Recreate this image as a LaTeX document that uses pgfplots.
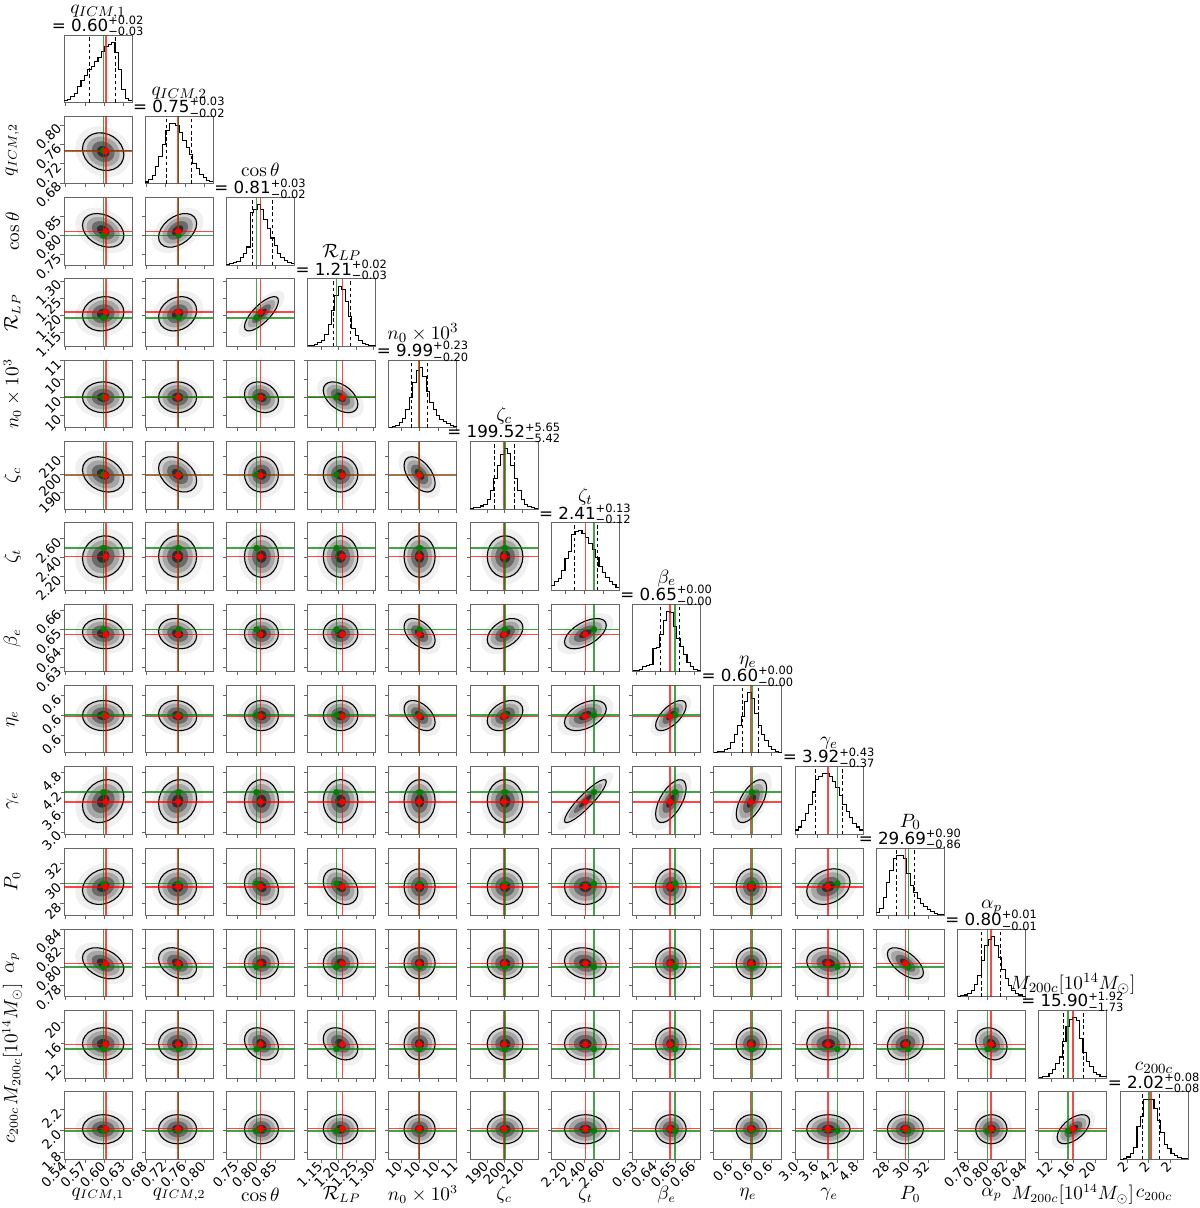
\documentclass[border=0pt]{standalone}
\usepackage[no-math]{fontspec}
\setmainfont{DejaVu Sans}
\usepackage{pgfplots}
\usepackage{pgfplotstable}
\pgfplotsset{compat=1.18}
\definecolor{mgreen}{RGB}{0,128,0}
\definecolor{mred}{RGB}{255,0,0}

\newcommand\tickfont{\fontsize{7.5}{8}\selectfont}
\newcommand\labfont{\fontsize{10.5}{12}\selectfont}
\newcommand\vv[3]{= #1$^{\mbox{\fontsize{6.5}{7}\selectfont #2}}_{\mbox{\fontsize{6.5}{7}\selectfont #3}}$}

% idx, lo, hi, ticks, ticklabels, median (red), truth (green), contour centre, contour half width
\newcommand\defpar[9]{%
  \expandafter\def\csname lo#1\endcsname{#2}%
  \expandafter\def\csname hi#1\endcsname{#3}%
  \expandafter\def\csname tk#1\endcsname{#4}%
  \expandafter\def\csname xtl#1\endcsname{#5}%
  \expandafter\def\csname ytl#1\endcsname{#5}%
  \expandafter\def\csname rd#1\endcsname{#6}%
  \expandafter\def\csname gr#1\endcsname{#7}%
  \expandafter\def\csname ce#1\endcsname{#8}%
  \expandafter\def\csname hw#1\endcsname{#9}}
\newcommand\deft[5]{%
  \expandafter\def\csname lab#1\endcsname{#2}%
  \expandafter\def\csname val#1\endcsname{\vv{#3}{#4}{#5}}}
\newcommand\defq[3]{%
  \expandafter\def\csname qa#1\endcsname{#2}%
  \expandafter\def\csname qb#1\endcsname{#3}}
\newcommand\defrho[3]{\expandafter\def\csname rho-#1-#2\endcsname{#3}}

\defpar{1}{0.5374}{0.6426}{0.54,0.57,0.60,0.63}{0.54,0.57,0.60,0.63}{0.602}{0.5985}{0.598}{0.032}
\defpar{2}{0.6786}{0.8181}{0.68,0.72,0.76,0.80}{0.68,0.72,0.76,0.80}{0.746}{0.747}{0.745}{0.039}
\defpar{3}{0.7223}{0.8985}{0.75,0.80,0.85}{0.75,0.80,0.85}{0.8104}{0.800}{0.813}{0.044}
\defpar{4}{1.110}{1.3065}{1.15,1.20,1.25,1.30}{1.15,1.20,1.25,1.30}{1.210}{1.193}{1.205}{0.050}
\defpar{5}{9.17}{11.01}{9.5,10,10.5,11}{10,10,10,11}{9.99}{10.0}{10.0}{0.42}
\defpar{6}{180.5}{218.7}{190,200,210}{190,200,210}{199.52}{200}{200.1}{10}
\defpar{7}{2.052}{2.768}{2.2,2.4,2.6}{2.20,2.40,2.60}{2.41}{2.50}{2.41}{0.22}
\defpar{8}{0.628}{0.6632}{0.63,0.64,0.65,0.66}{0.63,0.64,0.65,0.66}{0.6474}{0.650}{0.6478}{0.0079}
\defpar{9}{0.5906}{0.6076}{0.595,0.600,0.605}{0.6,0.6,0.6}{0.5998}{0.6001}{0.600}{0.0038}
\defpar{10}{2.93}{4.97}{3.0,3.6,4.2,4.8}{3.0,3.6,4.2,4.8}{3.91}{4.20}{3.93}{0.65}
\defpar{11}{26.79}{33.59}{28,30,32}{28,30,32}{29.69}{30.0}{29.7}{1.8}
\defpar{12}{0.7684}{0.8400}{0.78,0.80,0.82,0.84}{0.78,0.80,0.82,0.84}{0.8037}{0.800}{0.804}{0.0165}
\defpar{13}{9.6}{22.19}{12,16,20}{12,16,20}{15.90}{15.0}{16.0}{3.0}
\defpar{14}{1.735}{2.361}{1.8,2.0,2.2}{1.8,2.0,2.2}{2.02}{2.00}{2.015}{0.135}
\expandafter\def\csname xtl14\endcsname{2,2,2}

\deft{1}{$q_{ICM,1}$}{0.60}{+0.02}{−0.03}
\deft{2}{$q_{ICM,2}$}{0.75}{+0.03}{−0.02}
\deft{3}{$\cos\theta$}{0.81}{+0.03}{−0.02}
\deft{4}{$\mathcal{R}_{LP}$}{1.21}{+0.02}{−0.03}
\deft{5}{$n_0\times10^3$}{9.99}{+0.23}{−0.20}
\deft{6}{$\zeta_c$}{199.52}{+5.65}{−5.42}
\deft{7}{$\zeta_t$}{2.41}{+0.13}{−0.12}
\deft{8}{$\beta_e$}{0.65}{+0.00}{−0.00}
\deft{9}{$\eta_e$}{0.60}{+0.00}{−0.00}
\deft{10}{$\gamma_e$}{3.92}{+0.43}{−0.37}
\deft{11}{$P_0$}{29.69}{+0.90}{−0.86}
\deft{12}{$\alpha_p$}{0.80}{+0.01}{−0.01}
\deft{13}{$M_{200c}[10^{14}M_\odot]$}{15.90}{+1.92}{−1.73}
\deft{14}{$c_{200c}$}{2.02}{+0.08}{−0.08}

\defq{1}{0.5765}{0.617}
\defq{2}{0.723}{0.774}
\defq{3}{0.7904}{0.8407}
\defq{4}{1.184}{1.233}
\defq{5}{9.79}{10.22}
\defq{6}{194.1}{205.17}
\defq{7}{2.29}{2.54}
\defq{8}{0.6425}{0.6522}
\defq{9}{0.5977}{0.6018}
\defq{10}{3.55}{4.35}
\defq{11}{28.83}{30.59}
\defq{12}{0.7937}{0.8137}
\defq{13}{14.17}{17.82}
\defq{14}{1.94}{2.10}

\defrho{2}{1}{-0.15}
\defrho{3}{1}{-0.3}\defrho{3}{2}{0.4}
\defrho{4}{1}{0.1}\defrho{4}{2}{0.2}\defrho{4}{3}{0.75}
\defrho{5}{3}{-0.2}\defrho{5}{4}{-0.45}
\defrho{6}{1}{-0.25}\defrho{6}{2}{-0.35}\defrho{6}{5}{-0.5}
\defrho{7}{1}{0.1}
\defrho{8}{1}{-0.1}\defrho{8}{2}{-0.15}\defrho{8}{5}{-0.45}\defrho{8}{6}{0.4}\defrho{8}{7}{0.55}
\defrho{9}{2}{-0.1}\defrho{9}{5}{-0.45}\defrho{9}{6}{0.35}\defrho{9}{7}{0.45}\defrho{9}{8}{0.65}
\defrho{10}{1}{0.2}\defrho{10}{2}{0.1}\defrho{10}{7}{0.9}\defrho{10}{8}{0.6}\defrho{10}{9}{0.6}
\defrho{11}{1}{0.2}\defrho{11}{3}{-0.2}\defrho{11}{4}{-0.3}\defrho{11}{10}{0.25}
\defrho{12}{1}{-0.35}\defrho{12}{2}{-0.3}\defrho{12}{7}{-0.15}\defrho{12}{10}{-0.15}\defrho{12}{11}{-0.6}
\defrho{13}{3}{-0.25}\defrho{13}{4}{-0.3}\defrho{13}{11}{0.15}\defrho{13}{12}{-0.2}
\defrho{14}{13}{0.55}

% unit circle for the contour shapes
\pgfplotstableread{
u v
1 0
0.9659 0.2588
0.8660 0.5
0.7071 0.7071
0.5 0.8660
0.2588 0.9659
0 1
-0.2588 0.9659
-0.5 0.8660
-0.7071 0.7071
-0.8660 0.5
-0.9659 0.2588
-1 0
-0.9659 -0.2588
-0.8660 -0.5
-0.7071 -0.7071
-0.5 -0.8660
-0.2588 -0.9659
0 -1
0.2588 -0.9659
0.5 -0.8660
0.7071 -0.7071
0.8660 -0.5
0.9659 -0.2588
1 0
}\circtab

% histogram heights (relative), 20 bins + closing row
\pgfplotstableread{
h1 h2 h3 h4 h5 h6 h7 h8 h9 h10 h11 h12 h13 h14
0.03 0.03 0.01 0.01 0.01 0.01 0.08 0.02 0.01 0.07 0.05 0.01 0.01 0.00
0.05 0.07 0.02 0.02 0.02 0.02 0.15 0.02 0.02 0.12 0.12 0.02 0.02 0.02
0.10 0.14 0.04 0.03 0.04 0.03 0.20 0.04 0.03 0.22 0.30 0.03 0.03 0.04
0.15 0.28 0.06 0.06 0.08 0.05 0.33 0.08 0.05 0.35 0.55 0.05 0.07 0.10
0.26 0.45 0.12 0.10 0.15 0.08 0.52 0.10 0.08 0.50 0.75 0.10 0.15 0.20
0.36 0.65 0.20 0.20 0.30 0.15 0.65 0.12 0.18 0.70 0.95 0.20 0.25 0.55
0.45 0.88 0.30 0.36 0.50 0.30 0.93 0.38 0.30 0.90 1.00 0.35 0.35 0.72
0.55 1.00 0.88 0.60 0.75 0.50 0.98 0.40 0.45 0.96 1.00 0.60 0.60 1.00
0.60 1.00 0.93 0.85 0.95 0.72 1.00 0.62 0.60 1.00 0.95 0.85 0.85 1.00
0.68 0.97 1.00 1.00 1.00 0.90 0.95 0.85 0.85 1.00 0.70 0.95 0.97 1.00
0.75 0.85 0.93 0.95 0.85 1.00 0.88 1.00 1.00 0.96 0.50 1.00 1.00 0.85
0.85 0.72 0.75 0.75 0.60 0.92 0.78 0.98 0.90 0.88 0.38 0.85 0.95 0.65
0.93 0.60 0.60 0.50 0.42 0.72 0.68 0.75 0.65 0.78 0.28 0.65 0.65 0.45
0.97 0.48 0.45 0.30 0.30 0.50 0.54 0.55 0.45 0.65 0.20 0.45 0.42 0.25
1.00 0.33 0.33 0.18 0.20 0.30 0.40 0.42 0.30 0.50 0.15 0.30 0.28 0.18
0.83 0.25 0.20 0.10 0.14 0.15 0.30 0.28 0.20 0.38 0.10 0.18 0.20 0.10
0.55 0.16 0.13 0.05 0.10 0.08 0.22 0.15 0.10 0.27 0.07 0.10 0.10 0.06
0.22 0.10 0.08 0.03 0.07 0.04 0.15 0.08 0.05 0.18 0.04 0.05 0.06 0.03
0.06 0.06 0.04 0.02 0.04 0.02 0.09 0.04 0.03 0.12 0.02 0.03 0.03 0.02
0.03 0.04 0.03 0.01 0.02 0.01 0.05 0.02 0.01 0.07 0.01 0.01 0.02 0.01
0.03 0.04 0.03 0.01 0.02 0.01 0.05 0.02 0.01 0.07 0.01 0.01 0.02 0.01
}\histtab

\pgfplotsset{cp/.style={scale only axis, width=1.36cm, height=1.35cm,
  clip mode=individual,
  axis line style={black!60, line width=0.5pt},
  tick style={black!60, line width=0.45pt},
  tick align=outside, major tick length=0.07cm,
  xtick pos=left, ytick pos=left,
  xticklabel style={font=\tickfont, rotate=45, anchor=east, inner sep=1pt},
  yticklabel style={font=\tickfont, rotate=45, anchor=east, inner sep=1pt},
  anchor=north west}}
\tikzset{
  rdl/.style={color=mred, line width=0.9pt, opacity=0.72},
  grl/.style={color=mgreen, line width=0.9pt, opacity=0.72},
  lab/.style={font=\labfont, inner sep=0pt}}

\newcommand\blob[2]{%
  \addplot[fill=#2, draw=none] table[x expr={\xce+#1*\xhw*\thisrow{u}},
    y expr={\yce+#1*\yhw*((\crr)*\thisrow{u}+\rr*\thisrow{v})}] {\circtab};}

\newcommand\twod[2]{%
  \pgfmathsetmacro\px{1.28+1.6246*(#2-1)}%
  \pgfmathsetmacro\py{-0.70-1.626*(#1-1)}%
  \edef\xlo{\csname lo#2\endcsname}\edef\xhi{\csname hi#2\endcsname}%
  \edef\ylo{\csname lo#1\endcsname}\edef\yhi{\csname hi#1\endcsname}%
  \edef\xtk{\csname tk#2\endcsname}\edef\ytk{\csname tk#1\endcsname}%
  \ifnum#1=14\relax\edef\xtl{\csname xtl#2\endcsname}\else\def\xtl{}\fi
  \ifnum#2=1\relax\edef\ytl{\csname ytl#1\endcsname}\else\def\ytl{}\fi
  \edef\xrd{\csname rd#2\endcsname}\edef\yrd{\csname rd#1\endcsname}%
  \edef\xgr{\csname gr#2\endcsname}\edef\ygr{\csname gr#1\endcsname}%
  \edef\xce{\csname ce#2\endcsname}\edef\yce{\csname ce#1\endcsname}%
  \edef\xhw{\csname hw#2\endcsname}\edef\yhw{\csname hw#1\endcsname}%
  \ifcsname rho-#1-#2\endcsname\edef\crr{\csname rho-#1-#2\endcsname}\else\def\crr{0}\fi
  \pgfmathsetmacro\rr{sqrt(1-(\crr)*(\crr))}%
  \begin{axis}[cp, at={(\px cm,\py cm)},
    xmin=\xlo, xmax=\xhi, ymin=\ylo, ymax=\yhi,
    xtick/.expanded={\xtk}, ytick/.expanded={\ytk},
    xticklabels/.expanded={\xtl}, yticklabels/.expanded={\ytl}]
    \blob{1.35}{black!6}
    \blob{1.05}{black!18}
    \blob{0.8}{black!35}
    \blob{0.55}{black!58}
    \blob{0.3}{black!82}
    \addplot[black, line width=0.6pt] table[x expr={\xce+\xhw*\thisrow{u}},
      y expr={\yce+\yhw*((\crr)*\thisrow{u}+\rr*\thisrow{v})}] {\circtab};
    \addplot[rdl] coordinates {(\xrd,\ylo) (\xrd,\yhi)};
    \addplot[rdl] coordinates {(\xlo,\yrd) (\xhi,\yrd)};
    \addplot[grl] coordinates {(\xgr,\ylo) (\xgr,\yhi)};
    \addplot[grl] coordinates {(\xlo,\ygr) (\xhi,\ygr)};
    \addplot[only marks, mark=*, mark size=1.6pt, color=mgreen] coordinates {(\xgr,\ygr)};
    \addplot[only marks, mark=*, mark size=1.6pt, color=mred] coordinates {(\xrd,\yrd)};
    \ifnum#1=14\relax\node[lab] at (rel axis cs:0.5,-0.52) {\csname lab#2\endcsname};\fi
    \ifnum#2=1\relax\node[lab, rotate=90] at (rel axis cs:-0.76,0.5) {\csname lab#1\endcsname};\fi
  \end{axis}}

\newcommand\diag[1]{%
  \pgfmathsetmacro\px{1.28+1.6246*(#1-1)}%
  \pgfmathsetmacro\py{-0.70-1.626*(#1-1)}%
  \edef\xlo{\csname lo#1\endcsname}\edef\xhi{\csname hi#1\endcsname}%
  \edef\xtk{\csname tk#1\endcsname}%
  \ifnum#1=14\relax\edef\xtl{\csname xtl#1\endcsname}\else\def\xtl{}\fi
  \edef\xrd{\csname rd#1\endcsname}\edef\xgr{\csname gr#1\endcsname}%
  \edef\qa{\csname qa#1\endcsname}\edef\qb{\csname qb#1\endcsname}%
  \begin{axis}[cp, at={(\px cm,\py cm)},
    xmin=\xlo, xmax=\xhi, ymin=0, ymax=1.12,
    xtick/.expanded={\xtk}, ytick=\empty,
    xticklabels/.expanded={\xtl}]
    \addplot[const plot, black, line width=0.6pt] table[x expr={\xlo+\coordindex*(\xhi-\xlo)/20}, y=h#1] {\histtab};
    \addplot[black, line width=0.55pt, dash pattern=on 2pt off 1.5pt] coordinates {(\qa,0) (\qa,1.12)};
    \addplot[black, line width=0.55pt, dash pattern=on 2pt off 1.5pt] coordinates {(\qb,0) (\qb,1.12)};
    \addplot[rdl] coordinates {(\xrd,0) (\xrd,1.12)};
    \addplot[grl] coordinates {(\xgr,0) (\xgr,1.12)};
    \node[anchor=base, inner sep=0pt, yshift=0.42cm, font=\fontsize{11}{12}\selectfont]
      at (rel axis cs:0.5,1) {\csname lab#1\endcsname};
    \node[anchor=base, inner sep=0pt, yshift=0.075cm, font=\fontsize{9.5}{11}\selectfont]
      at (rel axis cs:0.5,1) {\csname val#1\endcsname};
    \ifnum#1=14\relax\node[lab] at (rel axis cs:0.5,-0.52) {\csname lab#1\endcsname};\fi
  \end{axis}}

\newcommand\cpanel[2]{\ifnum#1=#2\relax\diag{#1}\else\twod{#1}{#2}\fi}

\begin{document}
\begin{tikzpicture}
  \path[use as bounding box] (0,0) rectangle (24,-24.16);
  \foreach \i in {1,...,14}{%
    \foreach \j in {1,...,\i}{%
      \edef\tmp{\noexpand\cpanel{\i}{\j}}\tmp
    }%
  }
\end{tikzpicture}
\end{document}
